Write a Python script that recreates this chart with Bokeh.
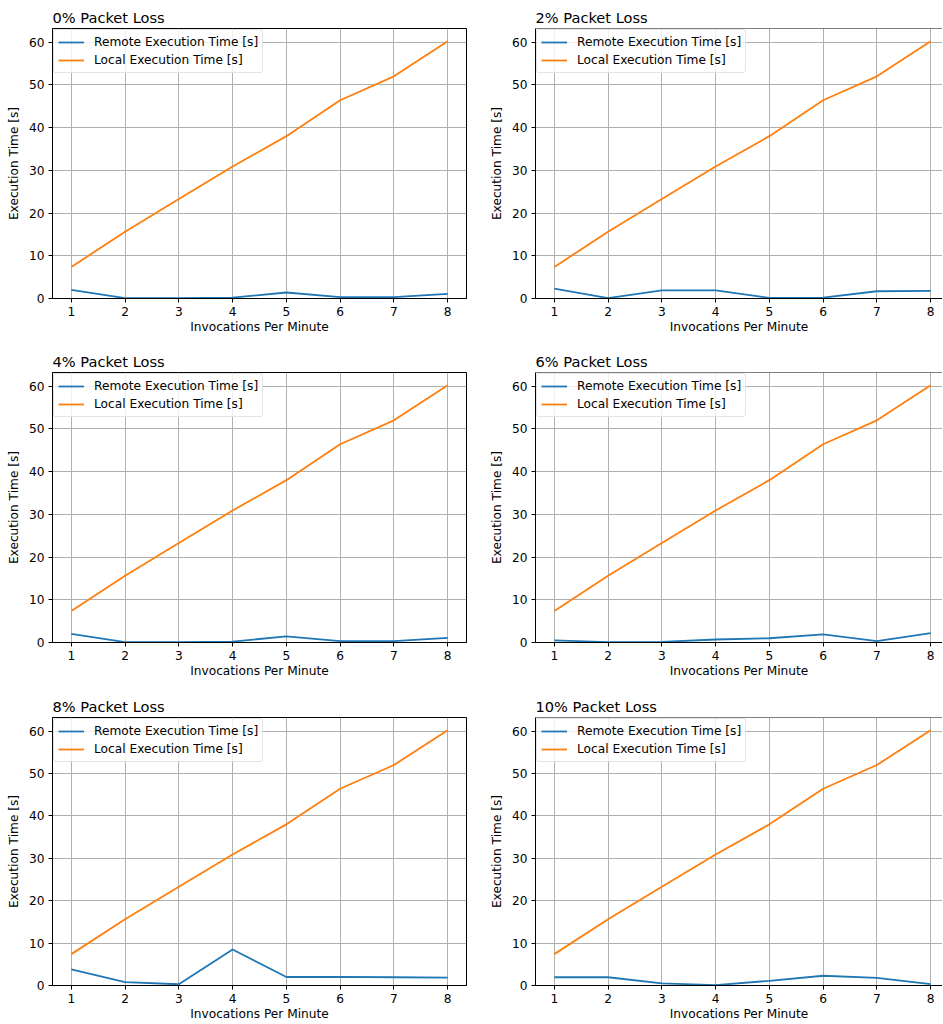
from bokeh.plotting import figure
from bokeh.models import Range1d, FixedTicker, Span
from bokeh.layouts import column, row
from bokeh.embed import file_html
from bokeh.resources import INLINE

invocations = [1, 2, 3, 4, 5, 6, 7, 8]
local_time = [7.4, 15.6, 23.3, 30.9, 38.0, 46.4, 52.0, 60.2]
remote_0 = [2.0, 0.1, 0.1, 0.2, 1.4, 0.3, 0.3, 1.1]
remote_2 = [2.3, 0.1, 1.9, 1.9, 0.15, 0.2, 1.7, 1.8]
remote_4 = [2.0, 0.1, 0.1, 0.2, 1.45, 0.3, 0.3, 1.1]
remote_6 = [0.5, 0.1, 0.15, 0.7, 1.0, 1.9, 0.3, 2.2]
remote_8 = [3.8, 0.8, 0.3, 8.5, 2.0, 2.05, 1.95, 1.85]
remote_10 = [1.95, 1.95, 0.5, 0.1, 1.1, 2.3, 1.8, 0.3]
panel_titles = ["0% Packet Loss", "2% Packet Loss", "4% Packet Loss",
                "6% Packet Loss", "8% Packet Loss", "10% Packet Loss"]
y_ticks = [0, 10, 20, 30, 40, 50, 60]
x_min, x_max_left, x_max_right = 0.65, 8.35, 8.22
y_min, y_max = 0.0, 63.2

FONT = "DejaVu Sans"
BLUE = "#1f77b4"
ORANGE = "#ff7f0e"

# (top border, frame height, bottom border) per row
ROW_GEOM = [(28, 270, 46), (28, 270, 47), (28, 269, 37)]


def make_panel(title, remote, right_col, row_idx):
    width = 459 if right_col else 483
    top_b, frame_h, bot_b = ROW_GEOM[row_idx]
    p = figure(
        width=width, height=top_b + frame_h + bot_b,
        x_range=Range1d(x_min, x_max_right if right_col else x_max_left),
        y_range=Range1d(y_min, y_max),
        output_backend="svg", toolbar_location=None, title=title,
        min_border_left=52, min_border_right=0 if right_col else 17,
        min_border_top=top_b, min_border_bottom=bot_b,
    )
    p.background_fill_color = "white"
    p.border_fill_color = "white"
    p.title.text_font = FONT
    p.title.text_font_size = "14.6px"
    p.title.text_font_style = "normal"
    p.title.text_color = "black"
    p.title.align = "left"
    p.title.offset = 0
    p.title.standoff = 5

    p.line(invocations, remote, line_color=BLUE, line_width=1.8,
           legend_label="Remote Execution Time [s]")
    p.line(invocations, local_time, line_color=ORANGE, line_width=1.8,
           legend_label="Local Execution Time [s]")

    p.xaxis.ticker = FixedTicker(ticks=invocations)
    p.yaxis.ticker = FixedTicker(ticks=y_ticks)
    p.xgrid.ticker = FixedTicker(ticks=invocations)
    p.ygrid.ticker = FixedTicker(ticks=y_ticks)
    p.xaxis.axis_label = "Invocations Per Minute"
    p.yaxis.axis_label = "Execution Time [s]"
    for ax in p.axis:
        ax.axis_line_color = "black"
        ax.axis_line_width = 1
        ax.major_tick_line_color = "black"
        ax.major_tick_in = 0
        ax.major_tick_out = 4
        ax.minor_tick_line_color = None
        ax.major_label_text_font = FONT
        ax.major_label_text_font_size = "12.2px"
        ax.major_label_text_color = "black"
        ax.major_label_standoff = 4
        ax.axis_label_text_font = FONT
        ax.axis_label_text_font_size = "12.2px"
        ax.axis_label_text_font_style = "normal"
        ax.axis_label_text_color = "black"
    p.xaxis.axis_label_standoff = 1
    p.yaxis.axis_label_standoff = 5
    p.grid.grid_line_color = "#b0b0b0"
    p.grid.grid_line_width = 1

    if right_col:
        p.outline_line_color = None
        p.add_layout(Span(location=y_max, dimension="width",
                          line_color="black", line_width=1))
    else:
        p.outline_line_color = "black"
        p.outline_line_alpha = 1
        p.outline_line_width = 1

    leg = p.legend[0]
    leg.location = "top_left"
    leg.margin = 1
    leg.padding = 4
    leg.spacing = 2
    leg.glyph_width = 26
    leg.glyph_height = 16
    leg.label_height = 16
    leg.label_standoff = 10
    leg.label_text_font = FONT
    leg.label_text_font_size = "12.2px"
    leg.label_text_color = "black"
    leg.border_line_color = "#cccccc"
    leg.border_line_width = 1
    leg.background_fill_color = "white"
    leg.background_fill_alpha = 0.8
    if "border_radius" in leg.properties():
        leg.border_radius = 3
    return p


remotes = [remote_0, remote_2, remote_4, remote_6, remote_8, remote_10]
panels = []
for i, (t, r) in enumerate(zip(panel_titles, remotes)):
    panels.append(make_panel(t, r, right_col=(i % 2 == 1), row_idx=i // 2))

layout = column(row(panels[0], panels[1]),
                row(panels[2], panels[3]),
                row(panels[4], panels[5]))

open("out.html", "w").write(file_html(layout, INLINE))
